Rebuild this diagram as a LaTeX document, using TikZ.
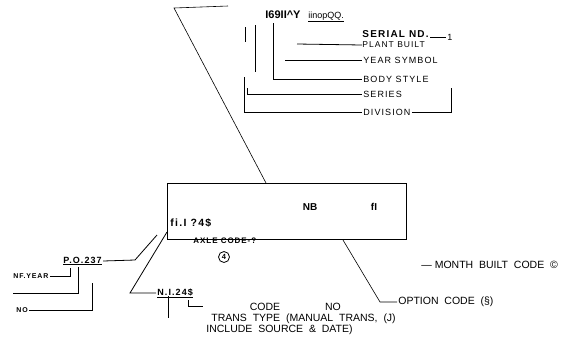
\documentclass[tikz,border=0pt]{standalone}
\usepackage{fontspec}
\setmainfont{Liberation Sans}
\newfontfamily\spacedfont[LetterSpace=12]{Liberation Sans}
\usetikzlibrary{positioning}

\begin{document}
\begin{tikzpicture}[x=1pt, y=-1pt, line width=0.8pt,
    every node/.style={font=\fontsize{10.5}{11}\selectfont, inner sep=1pt},
    lbl/.style={anchor=west, font=\spacedfont\fontsize{9}{10}\selectfont},
    bold/.style={font=\bfseries\fontsize{10}{11}\selectfont},
    smallbold/.style={anchor=west, font=\spacedfont\bfseries\fontsize{9}{10}\selectfont}]
    \useasboundingbox (0,0) rectangle (564,341);

    % the plate
    \node[draw, line width=1pt, minimum width=239pt, minimum height=56pt, anchor=north west, inner sep=0pt] (plate) at (167,183) {};
    \node[bold] (nb) at (310,207) {NB};
    \node[bold] (fl) at (374,207) {fI};
    \node[smallbold, font=\spacedfont\bfseries\fontsize{10.5}{11}\selectfont] (vin) at (169,223) {fi.I ?4\$};

    % top code and its leaders
    \node[bold, anchor=west, font=\bfseries\fontsize{11}{12}\selectfont] (code) at (264,15) {I69II\textasciicircum Y};
    \node[anchor=west, font=\fontsize{9}{10}\selectfont] (plantno) at (307,17) {\underline{iinopQQ.}};
    \node[smallbold, inner sep=0pt, font=\spacedfont\bfseries\fontsize{10}{11}\selectfont] (serial) at (362,34) {SERIAL ND.};
    \node[lbl, inner sep=0pt, font=\spacedfont\fontsize{8.5}{9}\selectfont] (plant) at (362,45) {PLANT BUILT};
    \node[lbl] (year) at (362,60) {YEAR SYMBOL};
    \node[lbl] (body) at (362,79) {BODY STYLE};
    \node[lbl] (series) at (362,94) {SERIES};
    \node[lbl] (division) at (362,112) {DIVISION};
    \node[anchor=west, font=\fontsize{9}{10}\selectfont] (one) at (446,37) {1};

    \draw (serial.east) ++(1,3) coordinate (sr) (sr) -- (one.west);
    \draw (297,44) -- (plant.west);
    \draw (285,60) -- (year.west);
    \draw (273,23) -- (273,79) -- (body.west);
    \draw (255,25) -- (255,72);
    \draw (247,88) -- (247,94) -- (series.west);
    \draw (245,27) -- (245,42);
    \draw (244,77) -- (244,112) -- (division.west);
    \draw (division.east) -- (451,112) -- (451,88);

    % leader from the top to the plate
    \coordinate (tr) at (228,6);
    \coordinate (tl) at (174,8);
    \draw[line width=0.6pt] (tr) -- (tl) -- (266,183);

    % lower left codes
    \node[smallbold] (po) at (62,261) {\underline{P.O.237}};
    \node[smallbold, font=\spacedfont\bfseries\fontsize{7}{8}\selectfont] (nfyear) at (12,276) {NF.YEAR};
    \node[smallbold, font=\spacedfont\bfseries\fontsize{7}{8}\selectfont] (no) at (15,310) {NO};
    \node[smallbold] (ni) at (156,293) {\underline{N.I.24\$}};

    \draw (167,232) -- (130,293) -- (ni.west);
    \draw (157,235) -- (135,260) -- (po.east);
    \draw (nfyear.east) -- (70,276) -- (70,268);
    \draw (13,293) -- (78,293) -- (78,267);
    \draw (no.east) -- (92,310) -- (92,283);
    \draw (168,296) -- (168,318);
    \draw (188,300) -- (188,306) -- (203,306);

    % axle code
    \node[smallbold, font=\spacedfont\bfseries\fontsize{8}{9}\selectfont] (axle) at (192,241) {AXLE CODE-?};
    \node[draw, circle, minimum size=11pt, inner sep=0pt, font=\bfseries\fontsize{7.5}{8}\selectfont] (four) at (224,257) {4};

    % right side
    \node[anchor=west] (month) at (420,265) {--- MONTH\ \ BUILT\ \ CODE\ \ \textcopyright};
    \node[anchor=west] (option) at (397,302) {OPTION\ \ CODE\ \ (\S)};
    \draw[line width=0.6pt] (343,240) -- (380,302) -- (option.west);

    % bottom texts
    \node (codelbl) at (265,307) {CODE};
    \node (nolbl) at (333,307) {NO};
    \node[anchor=west] (trans) at (210,319) {TRANS\ \ TYPE\ \ (MANUAL\ \ TRANS,\ \ (J)};
    \node[anchor=west] (include) at (205,330) {INCLUDE\ \ SOURCE\ \ \&\ \ DATE)};
\end{tikzpicture}
\end{document}
